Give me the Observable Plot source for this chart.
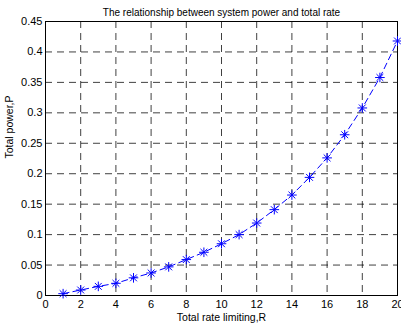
<!DOCTYPE html>
<html>
<head>
<meta charset="utf-8">
<script src="https://cdn.jsdelivr.net/npm/d3@7"></script>
<script src="https://cdn.jsdelivr.net/npm/@observablehq/plot@0.6"></script>
<style>
  html, body { margin: 0; padding: 0; background: #fff; }
  svg { display: block; }
</style>
</head>
<body>
<div id="chart"></div>
<script>
const title = "The relationship between system power and total rate";
const xLabel = "Total rate limiting,R";
const yLabel = "Total power,P";
const rateR = [1,2,3,4,5,6,7,8,9,10,11,12,13,14,15,16,17,18,19,20];
const powerP = [0.003,0.009,0.015,0.020,0.029,0.037,0.047,0.059,0.071,0.085,0.100,0.119,0.141,0.165,0.194,0.226,0.264,0.308,0.358,0.418];
const xTicks = [0,2,4,6,8,10,12,14,16,18,20];
const yTicks = [0,0.05,0.1,0.15,0.2,0.25,0.3,0.35,0.4,0.45];

const data = rateR.map((r, i) => ({r, p: powerP[i]}));
const font = "Liberation Sans, Arial, Helvetica, sans-serif";

const chart = Plot.plot({
  width: 401,
  height: 327,
  marginLeft: 45,
  marginRight: 4,
  marginTop: 21,
  marginBottom: 32,
  style: {fontFamily: font, fontSize: "11px", color: "#000", background: "#fff"},
  x: {domain: [0, 20], ticks: xTicks},
  y: {domain: [0, 0.45], ticks: yTicks},
  marks: [
    Plot.gridX(xTicks.slice(1, -1), {stroke: "#000", strokeOpacity: 0.75, strokeDasharray: "7,5"}),
    Plot.gridY(yTicks.slice(1, -1), {stroke: "#000", strokeOpacity: 0.75, strokeDasharray: "7,5"}),
    Plot.axisX(xTicks, {tickSize: 0, tickPadding: 5, label: null, fontSize: 11}),
    Plot.axisY(yTicks, {tickSize: 0, tickPadding: 3, label: null, fontSize: 11, tickFormat: d3.format("~g")}),
    Plot.frame({stroke: "#000"}),
    Plot.line(data, {x: "r", y: "p", stroke: "#0000ff", strokeWidth: 1, strokeDasharray: "6,4"}),
    Plot.dot(data, {x: "r", y: "p", symbol: "plus", r: 3.2, stroke: "#0000ff", strokeWidth: 1}),
    Plot.dot(data, {x: "r", y: "p", symbol: "times", r: 3.2, stroke: "#0000ff", strokeWidth: 1}),
    Plot.text([title], {frameAnchor: "top", dy: -13, fontSize: 10, fill: "#000"}),
    Plot.text([xLabel], {frameAnchor: "bottom", dy: 25, fontSize: 10.5, fill: "#000"}),
    Plot.text([yLabel], {frameAnchor: "left", dx: -36, rotate: -90, fontSize: 10.5, fill: "#000"})
  ]
});
document.getElementById("chart").appendChild(chart);
</script>
</body>
</html>
